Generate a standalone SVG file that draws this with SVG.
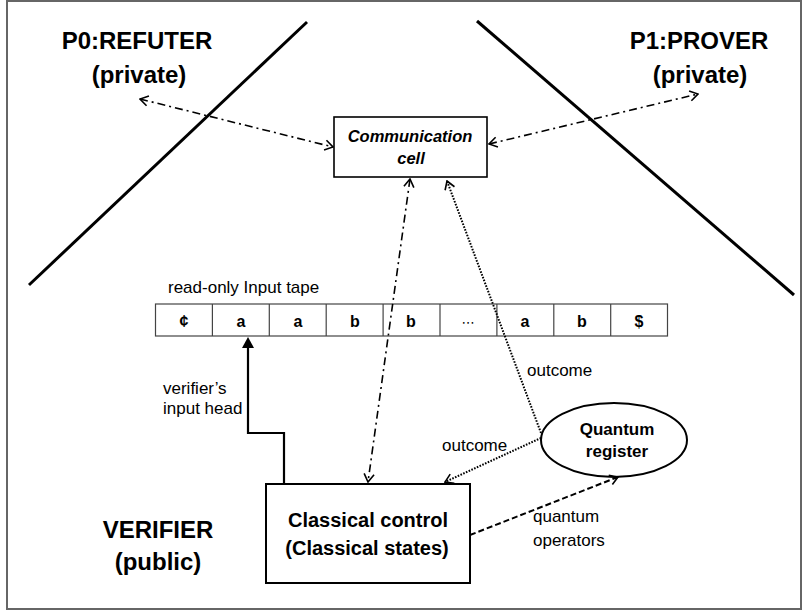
<svg xmlns="http://www.w3.org/2000/svg" width="802" height="612" viewBox="0 0 802 612">
<defs>
<style>
.t{font-family:"Liberation Sans",Arial,sans-serif;fill:#000}
.title{font-size:24px;font-weight:bold}
.lbl{font-size:17px}
.cell{font-size:16px;font-weight:bold}
.dd{stroke:#000;stroke-width:1.6;fill:none;stroke-dasharray:8 4 2 4}
.dot{stroke:#000;stroke-width:2;fill:none;stroke-dasharray:1.6 1.4}
.dash{stroke:#000;stroke-width:2;fill:none;stroke-dasharray:6 3}
</style>
<marker id="oa" viewBox="0 0 10 12" refX="9" refY="6" markerWidth="10" markerHeight="12" markerUnits="userSpaceOnUse" orient="auto-start-reverse">
<path d="M1,1 L9,6 L1,11" fill="none" stroke="#000" stroke-width="1.6"/>
</marker>
</defs>
<rect x="7" y="1" width="794" height="608" fill="#fff" stroke="#666" stroke-width="2"/>
<g id="boundaries">
<line x1="307" y1="22" x2="29" y2="285" stroke="#000" stroke-width="3"/>
<line x1="477" y1="21" x2="794" y2="295" stroke="#000" stroke-width="3"/>
</g>
<g id="refuter">
<text class="t title" x="137" y="49" text-anchor="middle">P0:REFUTER</text>
<text class="t title" x="139" y="83" text-anchor="middle">(private)</text>
</g>
<g id="prover">
<text class="t title" x="699" y="49" text-anchor="middle">P1:PROVER</text>
<text class="t title" x="700" y="83" text-anchor="middle">(private)</text>
</g>
<g id="comm-cell">
<rect x="334" y="117" width="153" height="60" fill="#fff" stroke="#000" stroke-width="1.6"/>
<text class="t" x="410" y="142" text-anchor="middle" font-size="16.5" font-weight="bold" font-style="italic">Communication</text>
<text class="t" x="411" y="164" text-anchor="middle" font-size="16.5" font-weight="bold" font-style="italic">cell</text>
</g>
<g id="input-tape">
<text class="t lbl" x="168" y="293">read-only Input tape</text>
<g fill="#fff" stroke="#444" stroke-width="1.2">
<rect x="155.5" y="304" width="512" height="32"/>
<line x1="212.4" y1="304" x2="212.4" y2="336"/>
<line x1="269.3" y1="304" x2="269.3" y2="336"/>
<line x1="326.2" y1="304" x2="326.2" y2="336"/>
<line x1="383.1" y1="304" x2="383.1" y2="336"/>
<line x1="440" y1="304" x2="440" y2="336"/>
<line x1="496.9" y1="304" x2="496.9" y2="336"/>
<line x1="553.8" y1="304" x2="553.8" y2="336"/>
<line x1="610.7" y1="304" x2="610.7" y2="336"/>
</g>
<g class="t cell" text-anchor="middle">
<text x="184" y="327">¢</text>
<text x="241" y="327">a</text>
<text x="298" y="327">a</text>
<text x="355" y="327">b</text>
<text x="411" y="327">b</text>
<text x="468" y="327" font-family="'DejaVu Sans',sans-serif" font-weight="normal" font-size="13">⋯</text>
<text x="525" y="327">a</text>
<text x="582" y="327">b</text>
<text x="639" y="327">$</text>
</g>
</g>
<g id="classical-control">
<rect x="266" y="484" width="204" height="99" fill="#fff" stroke="#000" stroke-width="2"/>
<text class="t" x="368" y="527" text-anchor="middle" font-size="20" font-weight="bold">Classical control</text>
<text class="t" x="367" y="555" text-anchor="middle" font-size="20" font-weight="bold">(Classical states)</text>
</g>
<g id="quantum-register">
<ellipse cx="614" cy="440" rx="73" ry="37" fill="#fff" stroke="#000" stroke-width="2"/>
<text class="t" x="617" y="435" text-anchor="middle" font-size="17" font-weight="bold">Quantum</text>
<text class="t" x="617" y="457" text-anchor="middle" font-size="17" font-weight="bold">register</text>
</g>
<g id="verifier">
<text class="t title" x="158" y="538" text-anchor="middle">VERIFIER</text>
<text class="t title" x="158" y="570" text-anchor="middle">(public)</text>
</g>
<g id="connectors">
<line class="dd" x1="140" y1="99" x2="333" y2="147" marker-start="url(#oa)" marker-end="url(#oa)"/>
<line class="dd" x1="489" y1="144" x2="698" y2="94" marker-start="url(#oa)" marker-end="url(#oa)"/>
<line class="dd" x1="410" y1="179" x2="368" y2="482" marker-start="url(#oa)" marker-end="url(#oa)"/>
<line class="dot" x1="541" y1="433" x2="447" y2="181" marker-end="url(#oa)"/>
<line class="dot" x1="541" y1="438" x2="445" y2="482" marker-end="url(#oa)"/>
<line class="dash" x1="470" y1="535" x2="618" y2="477" marker-end="url(#oa)"/>
<polyline points="284,484 284,433 248,433 248,345" fill="none" stroke="#000" stroke-width="2.2"/>
<path d="M248,337 L254,348 L242,348 Z" fill="#000"/>
<text class="t lbl" x="163" y="394">verifier’s</text>
<text class="t lbl" x="163" y="414">input head</text>
<text class="t lbl" x="527" y="376">outcome</text>
<text class="t lbl" x="442" y="451">outcome</text>
<text class="t lbl" x="533" y="522">quantum</text>
<text class="t lbl" x="533" y="546">operators</text>
</g>
</svg>
